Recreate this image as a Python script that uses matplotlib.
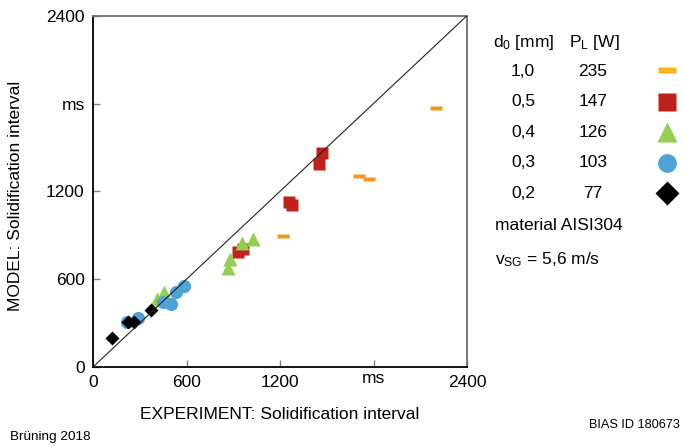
import matplotlib
matplotlib.use("Agg")
import matplotlib.pyplot as plt
import numpy as np

plt.rcParams['font.family'] = ['Liberation Sans', 'DejaVu Sans']
plt.rcParams['mathtext.fontset'] = 'custom'
plt.rcParams['mathtext.rm'] = 'Liberation Sans'
plt.rcParams['mathtext.it'] = 'Liberation Sans:italic'

# Data (experiment, model) in ms
d10_x = [1221, 1705, 1769, 2199]
d10_y = [895, 1307, 1286, 1770]
d05_x = [928, 964, 1260, 1280, 1448, 1467]
d05_y = [786, 809, 1125, 1110, 1390, 1464]
d04_x = [868, 879, 954, 1029, 412, 456]
d04_y = [673, 741, 850, 873, 465, 510]
d03_x = [220, 287, 447, 500, 531, 586]
d03_y = [309, 336, 445, 430, 510, 555]
d02_x = [124, 222, 262, 371]
d02_y = [200, 305, 306, 387]

diameters = ["1,0", "0,5", "0,4", "0,3", "0,2"]
powers = ["235", "147", "126", "103", "77"]

x_ticks = [0, 600, 1200, 1800, 2400]
x_ticklabels = ["0", "600", "1200", "ms", "2400"]
y_ticks = [0, 600, 1200, 1800, 2400]
y_ticklabels = ["0", "600", "1200", "ms", "2400"]

orange = '#F4961E'
red = '#C0211A'
green = '#92CF50'
blue = '#4EA3D7'
black = '#000000'

W, H = 685, 447
fig = plt.figure(figsize=(W/100, H/100), dpi=100)
ax = fig.add_axes([93/W, 1-367/H, (467-93)/W, (367-15.7)/H])

from matplotlib.path import Path
dash = Path([(-1, -0.33), (1, -0.33), (1, 0.33), (-1, 0.33), (-1, -0.33)],
            [Path.MOVETO, Path.LINETO, Path.LINETO, Path.LINETO, Path.CLOSEPOLY])

ax.plot(d10_x, d10_y, ls='none', marker=dash, ms=8.5, mfc=orange, mec='none', zorder=3)
ax.plot(d05_x, d05_y, ls='none', marker='s', ms=8.5, mfc=red, mec='none', zorder=3)
ax.plot(d04_x, d04_y, ls='none', marker='^', ms=10, mfc=green, mec='none', zorder=3)
ax.plot(d03_x, d03_y, ls='none', marker='o', ms=9.5, mfc=blue, mec='none', zorder=3)
ax.plot(d02_x, d02_y, ls='none', marker='D', ms=7, mfc=black, mec='none', zorder=3)
ax.plot([0, 2400], [0, 2400], color='#222222', lw=0.8, zorder=4)

ax.set_xlim(0, 2400)
ax.set_ylim(0, 2400)
ax.set_xticks(x_ticks)
ax.set_xticklabels(x_ticklabels)
ax.set_yticks(y_ticks)
ax.set_yticklabels(y_ticklabels)
ax.tick_params(direction='in', length=5, width=1, color='#808080', labelsize=12.5, pad=6)
for lbl in ax.get_xticklabels():
    if lbl.get_text() == 'ms':
        lbl.set_y(0.012)
for side in ['left', 'bottom']:
    ax.spines[side].set_color('black')
    ax.spines[side].set_linewidth(1.3)
for side in ['top', 'right']:
    ax.spines[side].set_color('#707070')
    ax.spines[side].set_linewidth(1.3)

ax.set_xlabel("EXPERIMENT: Solidification interval", fontsize=12.5, labelpad=12)
ax.set_ylabel("MODEL: Solidification interval", fontsize=12.5, labelpad=14)
ax.yaxis.set_label_coords(-0.187, 0.487)

# Legend panel (pixel coordinates)
ov = fig.add_axes([0, 0, 1, 1])
ov.set_xlim(0, W)
ov.set_ylim(H, 0)
ov.axis('off')
ov.text(493, 43, r"d$_\mathrm{0}$ [mm]", fontsize=12.5, ha='left', va='center')
ov.text(569, 43, r"P$_\mathrm{L}$ [W]", fontsize=12.5, ha='left', va='center')
rows_y = [71.7, 101.7, 132.3, 162.7, 193.3]
for d, p, yy in zip(diameters, powers, rows_y):
    ov.text(523, yy, d, fontsize=12.5, ha='center', va='center')
    ov.text(593, yy, p, fontsize=12.5, ha='center', va='center')
mx = 667
ov.plot([mx], [rows_y[0] - 1.5], marker=dash, ms=13, mfc='#F9B41C', mec='none', ls='none')
ov.plot([mx], [rows_y[1]], marker='s', ms=13, mfc=red, mec='none', ls='none')
ov.plot([mx], [rows_y[2]], marker='^', ms=15, mfc=green, mec='none', ls='none')
ov.plot([mx], [rows_y[3]], marker='o', ms=13.5, mfc=blue, mec='none', ls='none')
ov.plot([mx], [rows_y[4]], marker='D', ms=12.5, mfc=black, mec='none', ls='none')
ov.text(495, 225, "material AISI304", fontsize=12.5, ha='left', va='center')
ov.text(495, 260, r"v$_\mathrm{SG}$ = 5,6 m/s", fontsize=12.5, ha='left', va='center')

ov.text(10, 437, "Brüning 2018", fontsize=9.7, ha='left', va='center')
ov.text(680, 425, "BIAS ID 180673", fontsize=9.2, ha='right', va='center')

fig.savefig("out.png", dpi=100)
